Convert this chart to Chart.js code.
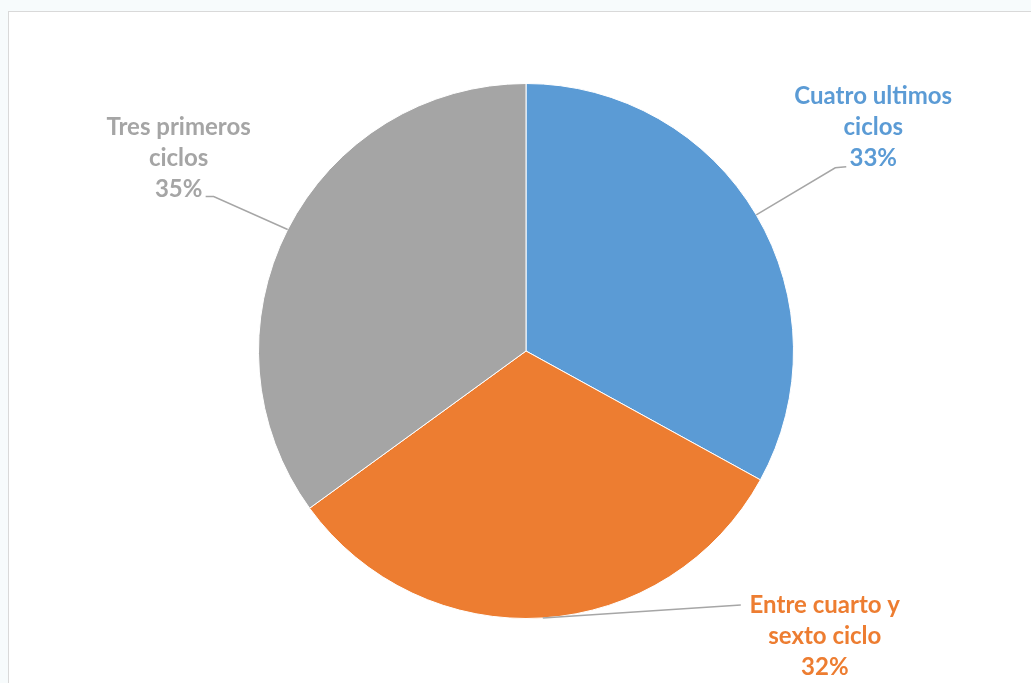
<!DOCTYPE html>
<html>
<head>
<meta charset="utf-8">
<script src="https://cdn.jsdelivr.net/npm/chart.js@4.4.1/dist/chart.umd.min.js"></script>
<style>
  body { margin: 0; background: #f7fbfc; }
  #frame { position: absolute; left: 8px; top: 11px; width: 1100px; height: 720px; background: #fff; border: 1px solid #d9d9d9; }
  #chart { position: absolute; left: 0; top: 0; }
</style>
</head>
<body>
<div id="frame"></div>
<canvas id="chart" width="1031" height="683"></canvas>
<script>
const categories = ["Cuatro ultimos ciclos", "Entre cuarto y sexto ciclo", "Tres primeros ciclos"];
const labelLines = [["Cuatro ultimos", "ciclos"], ["Entre cuarto y", "sexto ciclo"], ["Tres primeros", "ciclos"]];
const shares = [33, 32, 35];
const colors = ["#5B9BD5", "#ED7D31", "#A5A5A5"];

// where each label sits relative to the edge of its slice
const labelLayout = [
  { elbow: [79, -47], end: [90, -48], text: [117, -57], lastLineAnchor: true },
  { elbow: null, end: [198, -13], text: [282, -13], lastLineAnchor: false },
  { elbow: [-74, -33], end: [-82, -33], text: [-109, -40], lastLineAnchor: true }
];

const leaderLabels = {
  id: "leaderLabels",
  afterDatasetsDraw(chart) {
    const ctx = chart.ctx;
    const arcs = chart.getDatasetMeta(0).data;
    const lineH = 31;
    arcs.forEach((arc, i) => {
      const p = arc.getProps(["x", "y", "startAngle", "endAngle", "outerRadius"], true);
      const mid = (p.startAngle + p.endAngle) / 2;
      const ex = p.x + Math.cos(mid) * p.outerRadius;
      const ey = p.y + Math.sin(mid) * p.outerRadius;
      const lay = labelLayout[i];
      ctx.save();
      ctx.strokeStyle = "#a6a6a6";
      ctx.lineWidth = 1.5;
      ctx.beginPath();
      ctx.moveTo(ex, ey);
      if (lay.elbow) ctx.lineTo(ex + lay.elbow[0], ey + lay.elbow[1]);
      ctx.lineTo(ex + lay.end[0], ey + lay.end[1]);
      ctx.stroke();

      const lines = labelLines[i].concat([shares[i] + "%"]);
      const tx = ex + lay.text[0];
      let ty = ey + lay.text[1];
      if (lay.lastLineAnchor) ty -= (lines.length - 1) * lineH;
      ctx.fillStyle = colors[i];
      ctx.font = "bold 24px Lato, 'Open Sans', sans-serif";
      ctx.textAlign = "center";
      ctx.textBaseline = "middle";
      lines.forEach((t, k) => ctx.fillText(t, tx, ty + k * lineH));
      ctx.restore();
    });
  }
};

new Chart(document.getElementById("chart"), {
  type: "pie",
  data: {
    labels: categories,
    datasets: [{
      data: shares,
      backgroundColor: colors,
      borderColor: "#ffffff",
      borderWidth: 1
    }]
  },
  options: {
    responsive: false,
    animation: false,
    layout: { padding: { top: 83, bottom: 64, left: 121, right: 100 } },
    plugins: {
      legend: { display: false },
      tooltip: { enabled: false }
    }
  },
  plugins: [leaderLabels]
});
</script>
</body>
</html>
